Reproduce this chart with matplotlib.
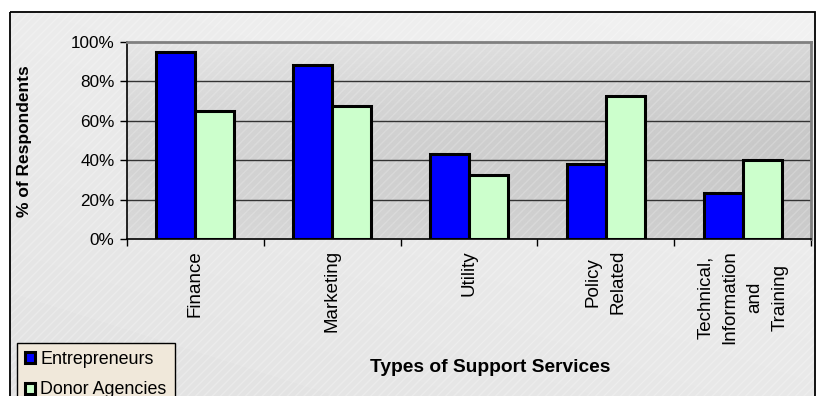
import matplotlib
matplotlib.use("Agg")
import matplotlib.pyplot as plt
import numpy as np
from matplotlib.patches import Rectangle
from matplotlib.ticker import FuncFormatter, FixedLocator

plt.rcParams['font.family'] = ['Liberation Sans', 'DejaVu Sans']

categories = ["Finance", "Marketing", "Utility", "Policy\nRelated",
              "Technical,\nInformation\nand\nTraining"]
entrepreneurs = [95, 88, 43, 38, 23.5]
donor_agencies = [65, 67.5, 32.5, 72.5, 40]
series_names = ["Entrepreneurs", "Donor Agencies"]
y_ticks = [0, 20, 40, 60, 80, 100]

W, H = 818, 396
fig = plt.figure(figsize=(W / 100, H / 100), dpi=100)
fig.patch.set_facecolor("white")

# outer chart area background (gradient + frame)
bg = fig.add_axes([0, 0, 1, 1], zorder=0)
bg.set_xlim(0, W)
bg.set_ylim(H, 0)
bg.axis("off")
gx, gy = np.meshgrid(np.linspace(0, 1, 200), np.linspace(0, 1, 100))
grad = 0.945 - 0.06 * (0.6 * gy + 0.4 * (1 - gx))
bg.imshow(grad, extent=[10, 815, H, 11], cmap="gray", vmin=0, vmax=1,
          aspect="auto", interpolation="bilinear", zorder=0)
bg.add_patch(Rectangle((10, 11.5), 805, H, fill=False, edgecolor="black",
                       linewidth=1.3, zorder=2))
bg.add_patch(Rectangle((10, 11.5), 805, H, fill=False, edgecolor="white",
                       hatch="////", linewidth=0, alpha=0.25, zorder=1))

# plot area
left, right, top, bottom = 127, 811, 41.7, 239
ax = fig.add_axes([left / W, 1 - bottom / H, (right - left) / W, (bottom - top) / H], zorder=1)
ax.set_facecolor("none")
px, py = np.meshgrid(np.linspace(0, 1, 200), np.linspace(0, 1, 100))
pgrad = 0.80 + 0.10 * (0.5 * py + 0.5 * (1 - px)) - 0.04 * np.sin(np.pi * py)
x = np.arange(len(categories))
ax.set_xlim(-0.5, len(categories) - 0.5)
ax.set_ylim(0, 100)
ax.imshow(pgrad[::-1], extent=[-0.5, len(categories) - 0.5, 0, 100], cmap="gray",
          vmin=0, vmax=1, aspect="auto", interpolation="bilinear", zorder=0)
ax.add_patch(Rectangle((-0.5, 0), len(categories), 100, fill=False, edgecolor="white",
                       hatch="////", linewidth=0, alpha=0.2, zorder=0.5))

for yv in y_ticks[1:-1]:
    ax.axhline(yv, color="#333333", linewidth=1.0, zorder=1)

bw = 1 / 3.5
ax.bar(x - bw / 2, entrepreneurs, width=bw, color="#0000FF", edgecolor="black",
       linewidth=2.2, zorder=3, label=series_names[0])
ax.bar(x + bw / 2, donor_agencies, width=bw, color="#CCFFCC", edgecolor="black",
       linewidth=2.2, zorder=3, label=series_names[1])

ax.yaxis.set_major_locator(FixedLocator(y_ticks))
ax.yaxis.set_major_formatter(FuncFormatter(lambda v, p: f"{int(v)}%"))
ax.tick_params(axis="y", direction="out", length=5, width=1, labelsize=12.3, pad=4)
ax.set_xticks(np.arange(len(categories) + 1) - 0.5)
ax.set_xticklabels([])
ax.tick_params(axis="x", direction="out", length=5, width=1)
ax.set_xticks(x, minor=True)
ax.set_xticklabels(categories, minor=True, rotation=90, ha="center", va="top",
                   multialignment="center", fontsize=13.5, linespacing=1.6)
ax.tick_params(axis="x", which="minor", length=0, pad=8)

for s in ["left", "bottom"]:
    ax.spines[s].set_color("black")
    ax.spines[s].set_linewidth(1.2)
for s in ["top", "right"]:
    ax.spines[s].set_color("#808080")
    ax.spines[s].set_linewidth(2.0)

fig.text(25 / W, 1 - 141 / H, "% of Respondents", rotation=90, ha="center", va="center",
         fontsize=12.5, fontweight="bold")
fig.text(490 / W, 1 - 368 / H, "Types of Support Services", ha="center", va="center",
         fontsize=13.8, fontweight="bold")

handles, labels = ax.get_legend_handles_labels()
leg = fig.legend(handles, labels, loc="upper left", bbox_to_anchor=(17 / W, 1 - 343 / H),
                 fontsize=12.9, frameon=True, fancybox=False, handlelength=0.55,
                 handleheight=0.55, handletextpad=0.3, borderpad=0.45, labelspacing=0.75,
                 borderaxespad=0)
leg.get_frame().set_facecolor("#F0E8DA")
leg.get_frame().set_edgecolor("black")
leg.get_frame().set_linewidth(1.0)
leg.get_frame().set_alpha(1)
leg.set_zorder(5)

fig.savefig("out.png", dpi=100)
